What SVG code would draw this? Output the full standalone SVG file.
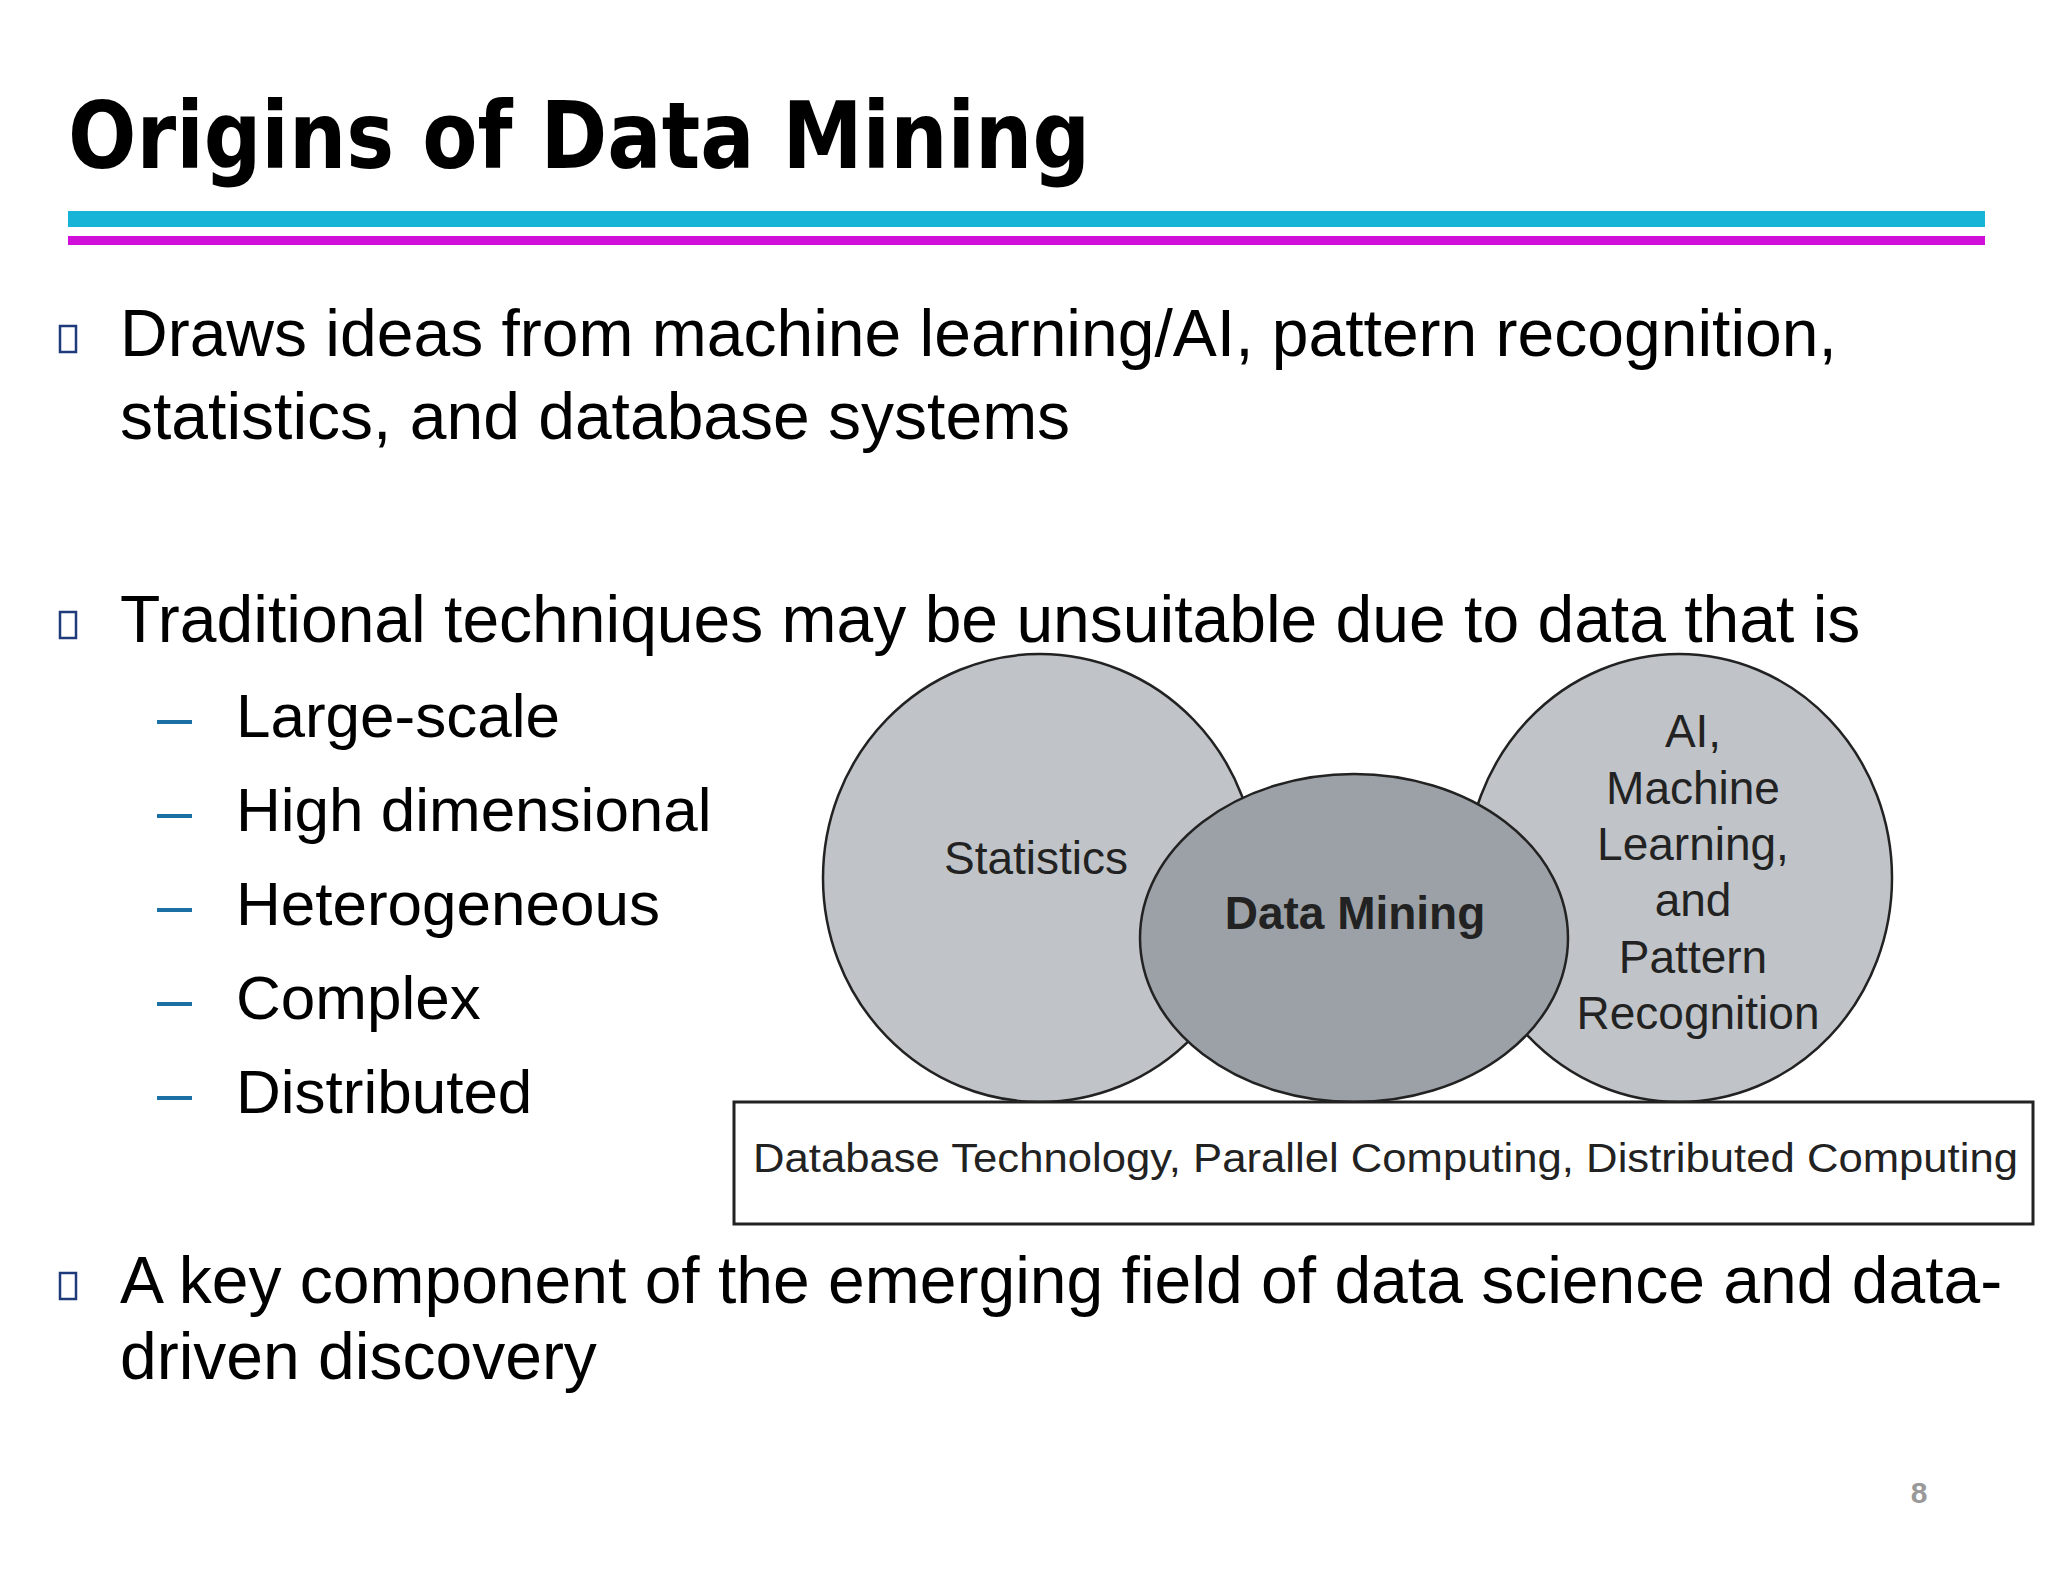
<svg xmlns="http://www.w3.org/2000/svg" width="2048" height="1582" viewBox="0 0 2048 1582">
<style>
.b{font-family:"Liberation Sans",Arial,sans-serif;font-size:66px;fill:#000}
.s{font-family:"Liberation Sans",Arial,sans-serif;font-size:62px;fill:#000}
.d{font-family:"Liberation Sans",Arial,sans-serif;font-size:46px;fill:#222;text-anchor:middle}
.box{fill:none;stroke:#1f3a7a;stroke-width:2.5}
.dash{stroke:#1a6fa3;stroke-width:4}
.e{stroke:#222;stroke-width:2.5}
</style>
<rect width="2048" height="1582" fill="#fff"/>
<text x="68" y="168" font-family="DejaVu Sans,Verdana,sans-serif" font-weight="bold" font-size="92" textLength="1022" lengthAdjust="spacingAndGlyphs">Origins of Data Mining</text>
<rect x="68" y="211" width="1917" height="16" fill="#18b4d8"/>
<rect x="68" y="236" width="1917" height="9" fill="#d010d8"/>
<rect class="box" x="60" y="326" width="16" height="26"/>
<text class="b" x="120" y="356">Draws ideas from machine learning/AI, pattern recognition,</text>
<text class="b" x="120" y="439">statistics, and database systems</text>
<rect class="box" x="60" y="612" width="16" height="26"/>
<text class="b" x="120" y="642">Traditional techniques may be unsuitable due to data that is</text>
<g>
<line class="dash" x1="157" y1="722" x2="192" y2="722"/><text class="s" x="236" y="737">Large-scale</text>
<line class="dash" x1="157" y1="816" x2="192" y2="816"/><text class="s" x="236" y="831">High dimensional</text>
<line class="dash" x1="157" y1="910" x2="192" y2="910"/><text class="s" x="236" y="925">Heterogeneous</text>
<line class="dash" x1="157" y1="1004" x2="192" y2="1004"/><text class="s" x="236" y="1019">Complex</text>
<line class="dash" x1="157" y1="1098" x2="192" y2="1098"/><text class="s" x="236" y="1113">Distributed</text>
</g>
<rect class="box" x="60" y="1273" width="16" height="26"/>
<text class="b" x="120" y="1303">A key component of the emerging field of data science and data-</text>
<text class="b" x="120" y="1379">driven discovery</text>
<text x="1919" y="1503" font-family="Liberation Sans,Arial,sans-serif" font-size="30" font-weight="bold" fill="#999" text-anchor="middle">8</text>
<g id="statistics"><ellipse class="e" cx="1040" cy="878" rx="217" ry="224" fill="#c0c4c8"/><text class="d" x="1036" y="874">Statistics</text></g>
<g id="ai"><ellipse class="e" cx="1679" cy="878" rx="213" ry="224" fill="#c0c4c8"/>
<text class="d" x="1693" y="747">AI,</text><text class="d" x="1693" y="804">Machine</text><text class="d" x="1693" y="860">Learning,</text><text class="d" x="1693" y="916">and</text><text class="d" x="1693" y="973">Pattern</text><text class="d" x="1698" y="1029">Recognition</text></g>
<g id="datamining"><ellipse class="e" cx="1354" cy="938" rx="214" ry="164" fill="#9ba1a6"/><text class="d" x="1355" y="929" font-weight="bold">Data Mining</text></g>
<g id="base"><rect x="734" y="1102" width="1299" height="122" fill="#fff" stroke="#222" stroke-width="3"/>
<text x="753" y="1172" font-family="Liberation Sans,Arial,sans-serif" font-size="40" fill="#222" textLength="1265" lengthAdjust="spacingAndGlyphs">Database Technology, Parallel Computing, Distributed Computing</text></g>
<g id="connectors"/>
</svg>
